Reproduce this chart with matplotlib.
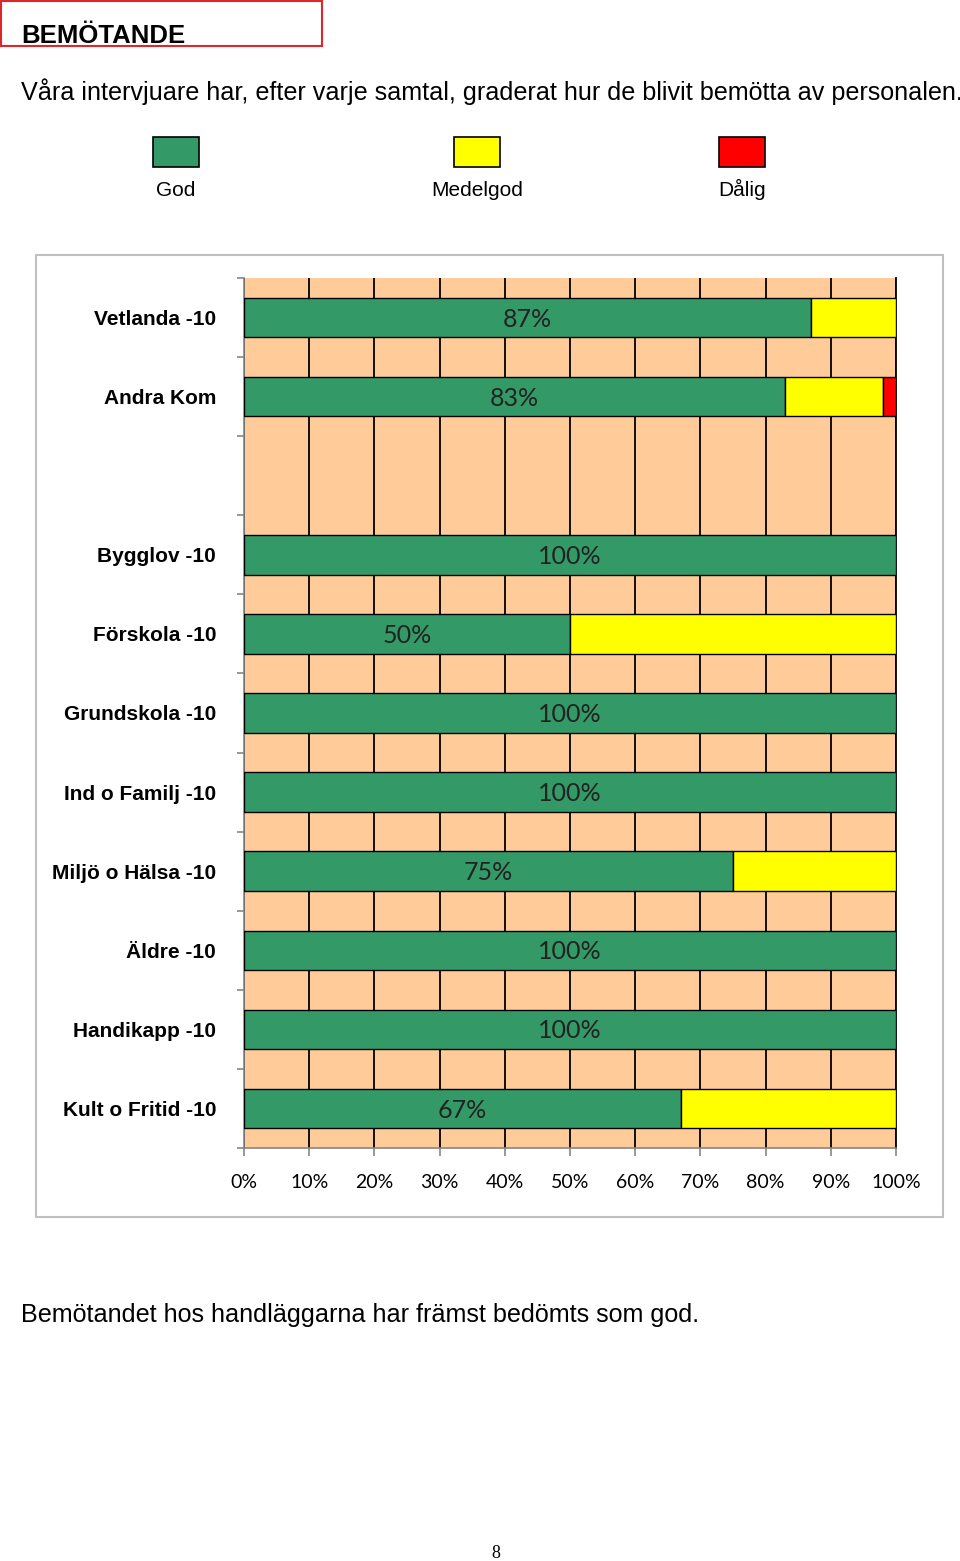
import numpy as np
import matplotlib
matplotlib.use('Agg')
import matplotlib.pyplot as plt
from matplotlib.patches import Rectangle

# data
categories = ['Vetlanda -10', 'Andra Kom', '', 'Bygglov -10', 'Förskola -10',
              'Grundskola -10', 'Ind o Familj -10', 'Miljö o Hälsa -10',
              'Äldre -10', 'Handikapp -10', 'Kult o Fritid -10']
god = [87, 83, 0, 100, 50, 100, 100, 75, 100, 100, 67]
medelgod = [13, 15, 0, 0, 50, 0, 0, 25, 0, 0, 33]
dalig = [0, 2, 0, 0, 0, 0, 0, 0, 0, 0, 0]
series_names = ['God', 'Medelgod', 'Dålig']
colors = ['#339966', '#FFFF00', '#FF0000']
xticks = list(range(0, 101, 10))

W, H = 960, 1561
fig = plt.figure(figsize=(W / 100, H / 100), dpi=100)


def fx(px):
    return px / W


def fy(py):
    return 1 - py / H


arial = 'Liberation Sans'
calibri = 'Lato'

# header
fig.add_artist(Rectangle((fx(1), fy(46)), fx(321), 45 / H, transform=fig.transFigure,
                         fill=False, ec='#E0262B', lw=1.5))
fig.text(fx(21), fy(43), 'BEMÖTANDE', family=arial, weight='bold', fontsize=18.5,
         va='baseline', ha='left')
fig.text(fx(21), fy(100), 'Våra intervjuare har, efter varje samtal, graderat hur de blivit bemötta av personalen.',
         family=arial, fontsize=18.1, va='baseline', ha='left')

# legend (squares with the label underneath)
leg_x = [176, 477, 742]
for name, c, x in zip(series_names, colors, leg_x):
    fig.add_artist(Rectangle((fx(x - 23), fy(167)), 46 / W, 30 / H, transform=fig.transFigure,
                             fc=c, ec='black', lw=1.2))
    fig.text(fx(x), fy(196), name, family=arial, fontsize=15, ha='center', va='baseline')

# chart frame
fig.add_artist(Rectangle((fx(36), fy(1217)), 907 / W, 962 / H, transform=fig.transFigure,
                         fill=False, ec='#BFBFBF', lw=1.5))

ax = fig.add_axes([fx(244), fy(1148), 652 / W, 870 / H])
ax.set_facecolor('#FFCC99')

y = np.arange(len(categories))
g = np.array(god, dtype=float)
m = np.array(medelgod, dtype=float)
d = np.array(dalig, dtype=float)
bh = 0.5

for vals, left, c in [(g, np.zeros_like(g), colors[0]), (m, g, colors[1]), (d, g + m, colors[2])]:
    k = vals > 0
    ax.barh(y[k], vals[k], left=left[k], height=bh, color=c, edgecolor='black', lw=1.0, zorder=3)

for yi, v in zip(y, g):
    if v > 0:
        ax.text(v / 2, yi + 0.02, f'{v:.0f}%', family=calibri, fontsize=18, color='#222222',
                ha='center', va='center', zorder=4)

ax.set_xlim(0, 100)
ax.set_ylim(len(categories) - 0.5, -0.5)
ax.set_xticks(xticks)
ax.set_xticklabels([f'{v}%' for v in xticks], family=calibri, fontsize=14)
ax.xaxis.grid(True, color='black', lw=1.3)
ax.set_axisbelow(True)

ax.set_yticks(y)
ax.set_yticklabels(categories, family=arial, weight='bold', fontsize=15)
ax.set_yticks(np.arange(-0.5, len(categories)), minor=True)
ax.tick_params(axis='y', which='major', length=0, pad=20)
ax.tick_params(axis='y', which='minor', length=5, color='#868686', width=1.2)
ax.tick_params(axis='x', length=6, color='#868686', width=1.2, pad=13)

ax.spines['top'].set_visible(False)
ax.spines['right'].set_color('black')
ax.spines['right'].set_linewidth(1.3)
for s in ['left', 'bottom']:
    ax.spines[s].set_color('#868686')
    ax.spines[s].set_linewidth(1.2)

# footer
fig.text(fx(21), fy(1315), 'Bemötandet hos handläggarna har främst bedömts som god.',
         family=arial, fontsize=18.1, va='center', ha='left')
fig.text(fx(496), fy(1553), '8', family='Liberation Serif', fontsize=13, ha='center', va='center')

fig.savefig('out.png', dpi=100)
